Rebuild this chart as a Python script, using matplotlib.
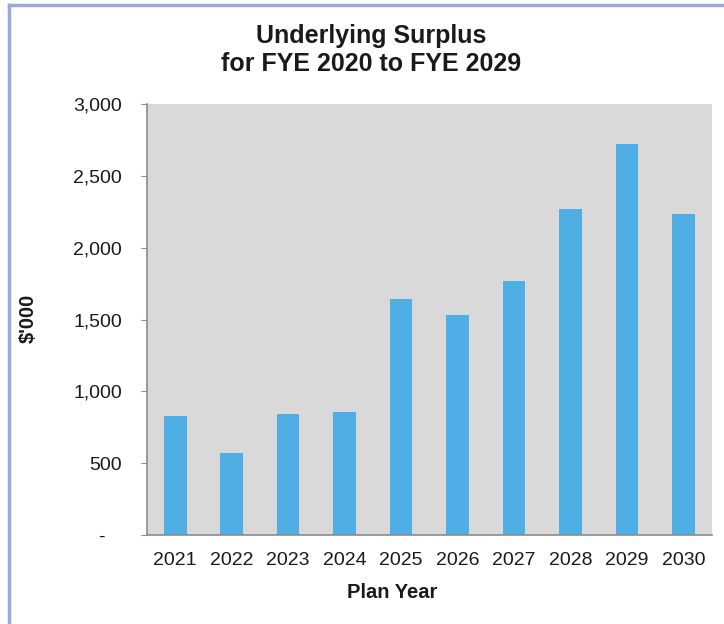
import matplotlib
matplotlib.use("Agg")
import matplotlib.pyplot as plt
from matplotlib.lines import Line2D
from matplotlib.ticker import FuncFormatter

years = ["2021", "2022", "2023", "2024", "2025", "2026", "2027", "2028", "2029", "2030"]
surplus = [828, 571, 842, 856, 1642, 1531, 1768, 2269, 2721, 2234]
yticks = [0, 500, 1000, 1500, 2000, 2500, 3000]
title_lines = ["Underlying Surplus", "for FYE 2020 to FYE 2029"]

plt.rcParams["font.family"] = ["Liberation Sans", "DejaVu Sans"]

W, H = 724, 624
fig = plt.figure(figsize=(W / 100, H / 100), dpi=100)
ax = fig.add_axes([0.203, 0.1426, 0.780, 0.6907])
ax.set_facecolor("#d9d9d9")

ax.bar(range(len(years)), surplus, width=0.4, color="#4faee3", zorder=2)

ax.set_xlim(-0.5, len(years) - 0.5)
ax.set_ylim(0, 3000)
ax.set_yticks(yticks)
# accounting style: zero shown as a dash
ax.yaxis.set_major_formatter(FuncFormatter(lambda v, p: "-   " if v == 0 else f"{int(v):,}"))
ax.set_xticks(range(len(years)))
ax.set_xticklabels(years)

for s in ["top", "right"]:
    ax.spines[s].set_visible(False)
for s in ["left", "bottom"]:
    ax.spines[s].set_color("#8c8c8c")
    ax.spines[s].set_linewidth(1.2)

txt = "#1a1a1a"
ax.tick_params(axis="y", length=4, color="#8c8c8c", pad=14, labelsize=14, labelcolor=txt)
ax.tick_params(axis="x", length=0, pad=12, labelsize=14, labelcolor=txt)

fig.text(392 / W, 1 - 598 / H, "Plan Year", fontsize=14.5, fontweight="bold", color=txt,
         ha="center", va="baseline")
fig.text(28 / W, 0.489, "$'000", rotation=90, fontsize=14.5, fontweight="bold",
         color=txt, ha="center", va="center")

fig.text(371 / W, 1 - 43 / H, title_lines[0], ha="center", va="baseline",
         fontsize=18, fontweight="bold", color=txt)
fig.text(371 / W, 1 - 71 / H, title_lines[1], ha="center", va="baseline",
         fontsize=18, fontweight="bold", color=txt)

# light blue frame around the chart
fig.add_artist(Line2D([0.0124, 1.0], [0.992, 0.992], color="#9aa9d6", lw=2.5, transform=fig.transFigure))
fig.add_artist(Line2D([0.0124, 0.0124], [0.0, 0.992], color="#9aa9d6", lw=2.5, transform=fig.transFigure))

fig.savefig("out.png", dpi=100)
plt.close()
